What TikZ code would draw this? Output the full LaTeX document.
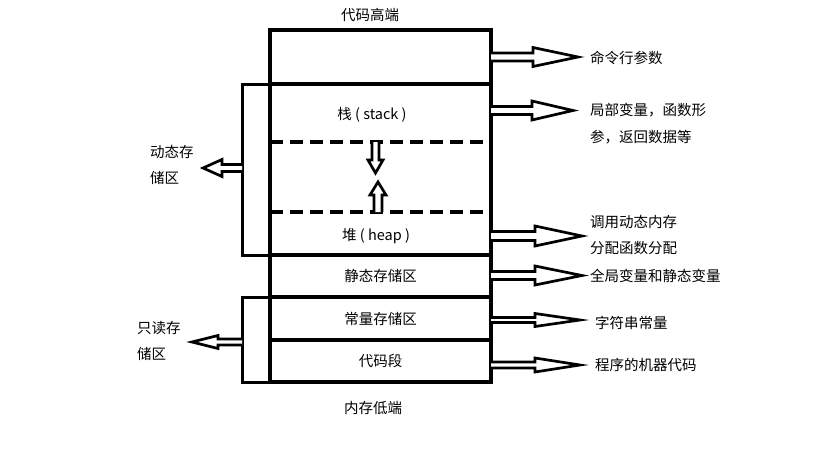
\documentclass[tikz,border=0pt]{standalone}
\usepackage{fontspec}
\newfontfamily\cjk{Noto Sans CJK SC}
\usetikzlibrary{
  positioning,  % below=of ...
  backgrounds,  % side boxes behind the memory column
  calc,
}
\tikzset{
  font=\cjk\fontsize{14.5}{26.5}\selectfont,
  seg/.style={
    draw,
    line width=4.5pt,
    minimum width=221pt,
    inner sep=0pt,
    outer sep=0pt
  },
  side box/.style={
    draw,
    line width=3pt,
    minimum width=28pt,
    inner sep=0pt,
    outer sep=0pt
  },
  gap line/.style={
    line width=4pt,
    dash pattern=on 13pt off 7pt
  },
  arrow line/.style={
    draw,
    line width=2.7pt,
    fill=white,
    line join=miter
  },
  lbl/.style={
    anchor=west,
    inner sep=0pt,
    align=left
  },
  % hollow block arrow: length / head length / shaft half width / head half width
  pics/fat arrow/.style n args={4}{
    code={
      \draw[arrow line] (0,-#3) -- (#1-#2,-#3) -- (#1-#2,-#4) -- (#1,0)
        -- (#1-#2,#4) -- (#1-#2,#3) -- (0,#3);
    }
  }
}

\begin{document}
\begin{tikzpicture}[x=1pt,y=-1pt]
\useasboundingbox (0,0) rectangle (819,460);

% memory column
\node[seg,minimum height=54pt,anchor=north] (args) at (380.5,30) {};
\node[seg,minimum height=171pt,below=0pt of args] (stack) {};
\node[seg,minimum height=42pt,below=0pt of stack] (static) {静态存储区};
\node[seg,minimum height=43pt,below=0pt of static] (const) {常量存储区};
\node[seg,minimum height=42pt,below=0pt of const] (code) {代码段};

\node (top)  at (370,15)  {代码高端};
\node (bot)  at (373,408) {内存低端};
\node (stacklbl) at (372,115) {栈 ( stack )};
\node (heaplbl)  at (376,236) {堆 ( heap )};

% side boxes
\begin{scope}[on background layer]
  \node[side box,minimum height=171pt,anchor=north east] (dyn) at (args.south west) {};
  \node[side box,minimum height=85pt,anchor=north east] (ro) at (static.south west) {};
\end{scope}

% stack / heap limits
\draw[gap line] (stack.west |- 0,142) -- (stack.east |- 0,142);
\draw[gap line] (stack.west |- 0,212) -- (stack.east |- 0,212);
\pic[rotate=-90] at (375.5,142) {fat arrow={31}{13}{3.5}{7.5}};
\pic[rotate=90]  at (378,212)   {fat arrow={30}{13}{4}{8}};

% right side
\pic at (args.east)             {fat arrow={87}{45}{4}{9.5}};
\pic at (stack.east |- 0,110.5) {fat arrow={82}{41}{4}{9.5}};
\pic at (stack.east |- 0,236)   {fat arrow={91}{47}{4.5}{10}};
\pic at (static.east |- 0,275.5){fat arrow={91}{47}{4}{9.5}};
\pic at (const.east |- 0,320)   {fat arrow={89}{45}{2.5}{6.5}};
\pic at (code.east |- 0,365)    {fat arrow={89}{45}{3}{7}};

\node[lbl] (argtxt)    at (590,58)    {命令行参数};
\node[lbl] (stacktxt)  at (590,123.5) {局部变量，函数形\\参，返回数据等};
\node[lbl] (heaptxt)   at (590,235)   {调用动态内存\\分配函数分配};
\node[lbl] (statictxt) at (590,276)   {全局变量和静态变量};
\node[lbl] (consttxt)  at (595,323)   {字符串常量};
\node[lbl] (codetxt)   at (595,365)   {程序的机器代码};

% left side
\pic[rotate=180] at (dyn.west |- 0,168) {fat arrow={39}{19}{3.5}{8.5}};
\pic[rotate=180] at (ro.west |- 0,342)  {fat arrow={50}{26}{3}{6.5}};

\node[lbl] (dyntxt) at (150,165) {动态存\\储区};
\node[lbl] (rotxt)  at (137,341) {只读存\\储区};
\end{tikzpicture}
\end{document}
